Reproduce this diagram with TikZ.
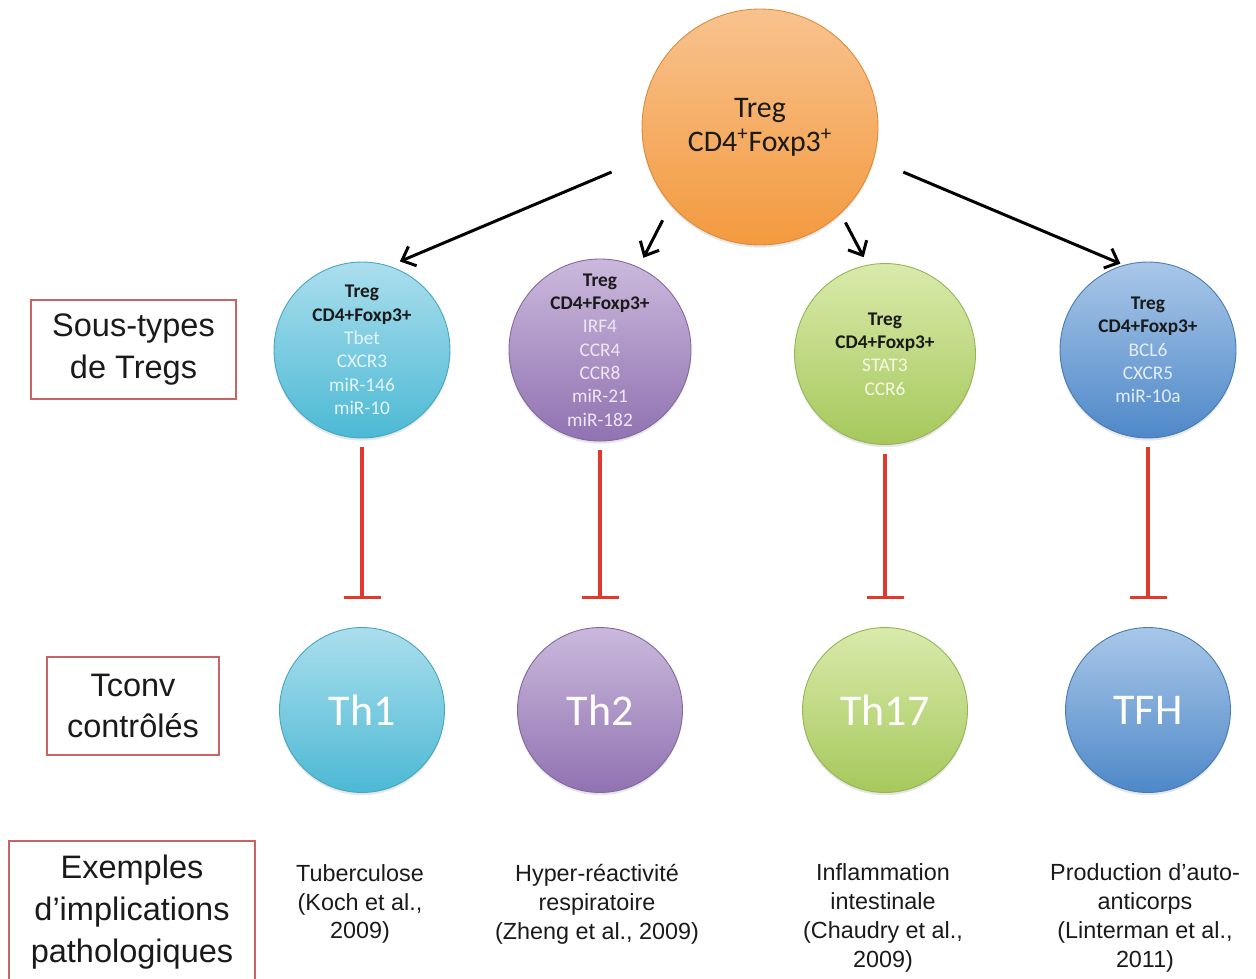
\documentclass[tikz,border=0pt]{standalone}
\usepackage{fontspec}
\setmainfont{Liberation Sans}
\newfontfamily\calibfont{Carlito}
\usetikzlibrary{arrows.meta,shadows}

\definecolor{orgtop}{HTML}{F8C28E}
\definecolor{orgbot}{HTML}{F39A3F}
\definecolor{cyantop}{HTML}{ABDEED}
\definecolor{cyanbot}{HTML}{4CB9D4}
\definecolor{cyanlt}{HTML}{E4F5FA}
\definecolor{purptop}{HTML}{CBB9DC}
\definecolor{purpbot}{HTML}{9072B1}
\definecolor{purplt}{HTML}{EEE7F4}
\definecolor{greentop}{HTML}{D9EAAB}
\definecolor{greenbot}{HTML}{A6C85C}
\definecolor{greenlt}{HTML}{F5FAE8}
\definecolor{bluetop}{HTML}{A9C7E8}
\definecolor{bluebot}{HTML}{4E88C8}
\definecolor{bluelt}{HTML}{E4EEF9}
\definecolor{inhred}{HTML}{E0392E}
\definecolor{boxred}{HTML}{C86464}
\definecolor{txt}{HTML}{1A1A1A}

\begin{document}
\begin{tikzpicture}[x=0.02cm, y=-0.02cm,
  cell/.style 2 args={circle, top color=#1, bottom color=#2, draw=#2!90!black,
    line width=0.5pt, align=center, inner sep=0pt,
    drop shadow={opacity=0.2, shadow xshift=0pt, shadow yshift=-1.5pt}},
  sub/.style={minimum size=3.52cm, text=txt, font=\calibfont\fontsize{11}{13.3}\selectfont},
  th/.style={minimum size=3.3cm, text=white, font=\calibfont\fontsize{25}{30}\selectfont},
  lbl/.style={draw=boxred, line width=1.1pt, align=center, inner sep=0pt, text=txt,
    font=\fontsize{18.5}{23.8}\selectfont},
  disease/.style={align=center, inner sep=0pt, text=txt, font=\fontsize{13.3}{16.4}\selectfont},
  arr/.style={-{Straight Barb[length=2.3mm,width=4.2mm]}, line width=1.7pt, black},
  inhib/.style={-{Bar[width=7.4mm,line width=2pt]}, line width=2pt, inhred}]

  \useasboundingbox (0,0) rectangle (1256,978);

  % Treg d'origine
  \node[cell={orgtop}{orgbot}, minimum size=4.72cm, text=txt,
    font=\calibfont\fontsize{17}{19.3}\selectfont] (treg) at (760,127)
    {Treg\\CD4\textsuperscript{+}Foxp3\textsuperscript{+}};

  % Sous-types de Tregs
  \node[cell={cyantop}{cyanbot}, sub] (s1) at (362,350)
    {\textbf{Treg}\\\textbf{CD4+Foxp3+}\\\textcolor{cyanlt}{Tbet}\\\textcolor{cyanlt}{CXCR3}\\
     \textcolor{cyanlt}{miR-146}\\\textcolor{cyanlt}{miR-10}};
  \node[cell={purptop}{purpbot}, sub] (s2) at (600,350)
    {\textbf{Treg}\\\textbf{CD4+Foxp3+}\\\textcolor{purplt}{IRF4}\\\textcolor{purplt}{CCR4}\\
     \textcolor{purplt}{CCR8}\\\textcolor{purplt}{miR-21}\\\textcolor{purplt}{miR-182}};
  \node[cell={greentop}{greenbot}, sub, minimum size=3.62cm] (s3) at (885,354)
    {\textbf{Treg}\\\textbf{CD4+Foxp3+}\\\textcolor{greenlt}{STAT3}\\\textcolor{greenlt}{CCR6}};
  \node[cell={bluetop}{bluebot}, sub] (s4) at (1148,350)
    {\textbf{Treg}\\\textbf{CD4+Foxp3+}\\\textcolor{bluelt}{BCL6}\\\textcolor{bluelt}{CXCR5}\\
     \textcolor{bluelt}{miR-10a}};

  % Tconv
  \node[cell={cyantop}{cyanbot}, th] (c1) at (362,710) {Th1};
  \node[cell={purptop}{purpbot}, th] (c2) at (600,710) {Th2};
  \node[cell={greentop}{greenbot}, th] (c3) at (885,710) {Th17};
  \node[cell={bluetop}{bluebot}, th] (c4) at (1148,710) {TFH};

  % Fleches
  \draw[arr, shorten <=0.74cm, shorten >=0.23cm] (treg.195) -- (s1.72);
  \draw[arr, shorten <=0.35cm, shorten >=0.21cm] (treg.221) -- (s2.65);
  \draw[arr, shorten <=0.2cm, shorten >=0.17cm] (treg.313) -- (s3.101);
  \draw[arr, shorten <=0.64cm, shorten >=0.07cm] (treg.344) -- (s4.106);

  % Inhibitions
  \foreach \i in {1,2,3,4}
    \draw[inhib, shorten <=0.18cm, shorten >=0.56cm] (s\i) -- (c\i);

  % Legendes
  \node[lbl, minimum width=4.1cm, minimum height=1.98cm] (lsub) at (133.5,349.5)
    {Sous-types\\de Tregs};
  \node[lbl, minimum width=3.44cm, minimum height=1.96cm] (ltconv) at (133,706)
    {Tconv\\contrôlés};
  \node[lbl, minimum width=4.92cm, minimum height=2.86cm] (lex) at (132,912)
    {Exemples\\d’implications\\pathologiques};

  % Pathologies
  \node[disease] (d1) at (360,904) {Tuberculose\\(Koch et al.,\\2009)};
  \node[disease] (d2) at (597,904) {Hyper-réactivité\\respiratoire\\(Zheng et al., 2009)};
  \node[disease] (d3) at (883,918) {Inflammation\\intestinale\\(Chaudry et al.,\\2009)};
  \node[disease] (d4) at (1145,918) {Production d’auto-\\anticorps\\(Linterman et al.,\\2011)};

\end{tikzpicture}
\end{document}
